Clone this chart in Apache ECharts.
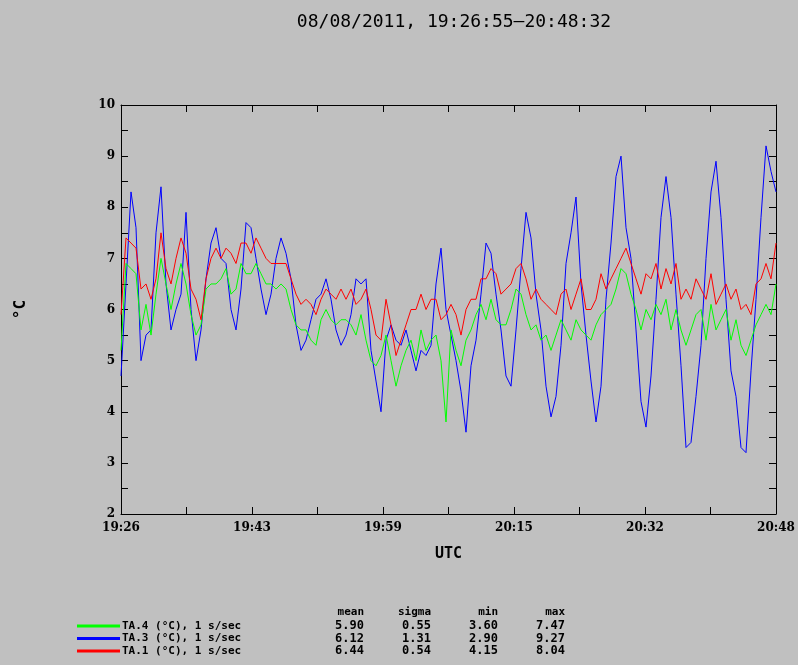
<!DOCTYPE html>
<html><head><meta charset="utf-8">
<script src="https://cdn.jsdelivr.net/npm/echarts@6/dist/echarts.min.js"></script>
<style>html,body{margin:0;padding:0;background:#c0c0c0}#c{width:798px;height:665px}</style>
</head><body><div id="c"></div>
<script>
var totalSeconds = 4897; // 19:26:55 -> 20:48:32
var startSec = 19*3600+26*60+55;
var blue = [4.7,6.5,8.3,7.6,5.0,5.5,5.6,7.5,8.4,6.5,5.6,6.0,6.3,7.9,6.0,5.0,5.6,6.6,7.3,7.6,7.0,6.9,6.0,5.6,6.4,7.7,7.6,7.0,6.4,5.9,6.3,7.0,7.4,7.1,6.6,5.7,5.2,5.4,5.8,6.2,6.3,6.6,6.2,5.6,5.3,5.5,5.9,6.6,6.5,6.6,5.2,4.6,4.0,5.4,5.7,5.4,5.3,5.6,5.2,4.8,5.2,5.1,5.3,6.5,
7.2,6.0,5.5,5.0,4.4,3.6,4.9,5.4,6.3,7.3,7.1,6.3,5.6,4.7,4.5,5.6,6.8,7.9,7.4,6.3,5.6,4.5,3.9,4.3,5.3,6.9,7.5,8.2,6.5,5.5,4.6,3.8,4.5,6.2,7.3,8.6,9.0,7.6,7.0,5.6,4.2,3.7,4.7,6.2,7.8,8.6,7.8,6.3,4.9,3.3,3.4,4.3,5.3,7.0,8.3,8.9,7.8,6.2,4.8,4.3,3.3,3.2,4.8,6.2,7.8,9.2,8.7,8.3];
var red = [5.9,7.4,7.3,7.2,6.4,6.5,6.2,6.6,7.5,6.8,6.5,7.0,7.4,7.1,6.4,6.2,5.8,6.6,7.0,7.2,7.0,7.2,7.1,6.9,7.3,7.3,7.1,7.4,7.2,7.0,6.9,6.9,6.9,6.9,6.6,6.3,6.1,6.2,6.1,5.9,6.2,6.4,6.3,6.2,6.4,6.2,6.4,6.1,6.2,6.4,6.0,5.5,5.4,6.2,5.7,5.1,5.4,5.7,6.0,6.0,6.3,6.0,6.2,6.2,
5.8,5.9,6.1,5.9,5.5,6.0,6.2,6.2,6.6,6.6,6.8,6.7,6.3,6.4,6.5,6.8,6.9,6.6,6.2,6.4,6.2,6.1,6.0,5.9,6.3,6.4,6.0,6.3,6.6,6.0,6.0,6.2,6.7,6.4,6.6,6.8,7.0,7.2,6.9,6.6,6.3,6.7,6.6,6.9,6.4,6.8,6.5,6.9,6.2,6.4,6.2,6.6,6.4,6.2,6.7,6.1,6.3,6.5,6.2,6.4,6.0,6.1,5.9,6.5,6.6,6.9,6.6,7.3];
var green = [5.2,6.9,6.8,6.7,5.6,6.1,5.5,6.3,7.0,6.5,6.0,6.5,6.9,6.5,5.9,5.5,5.7,6.4,6.5,6.5,6.6,6.8,6.3,6.4,6.9,6.7,6.7,6.9,6.7,6.5,6.5,6.4,6.5,6.4,6.0,5.7,5.6,5.6,5.4,5.3,5.8,6.0,5.8,5.7,5.8,5.8,5.7,5.5,5.9,5.4,5.0,4.9,5.1,5.5,5.0,4.5,4.9,5.2,5.4,5.0,5.6,5.2,5.4,5.5,
5.0,3.8,5.6,5.2,4.9,5.4,5.6,5.9,6.1,5.8,6.2,5.8,5.7,5.7,6.0,6.4,6.3,5.9,5.6,5.7,5.4,5.5,5.2,5.5,5.8,5.6,5.4,5.8,5.6,5.5,5.4,5.7,5.9,6.0,6.1,6.4,6.8,6.7,6.3,6.0,5.6,6.0,5.8,6.1,5.9,6.2,5.6,6.0,5.6,5.3,5.6,5.9,6.0,5.4,6.1,5.6,5.8,6.0,5.4,5.8,5.3,5.1,5.4,5.7,5.9,6.1,5.9,6.5];
var legendRows = [
 {name:'TA.4 (°C), 1 s/sec', color:'#00ff00', stats:['5.90','0.55','3.60','7.47']},
 {name:'TA.3 (°C), 1 s/sec', color:'#0000ff', stats:['6.12','1.31','2.90','9.27']},
 {name:'TA.1 (°C), 1 s/sec', color:'#ff0000', stats:['6.44','0.54','4.15','8.04']}
];
var statHeaders = ['mean','sigma','min','max'];

function toPairs(arr){var n=arr.length;return arr.map(function(v,i){return [i*totalSeconds/(n-1), v];});}
var step = totalSeconds/10;
function fmtT(v){
  var k=Math.round(v/step); if(k%2) return '';
  var s=startSec+v; var h=Math.floor(s/3600), m=Math.floor((s%3600)/60);
  return (h<10?'0':'')+h+':'+(m<10?'0':'')+m;
}
var font='"DejaVu Sans Mono", monospace';
var axLine={onZero:false,lineStyle:{color:'#000',width:1}};
var tick={inside:true,length:7,lineStyle:{color:'#000'}};
var graphics=[];
var statX=[364,431,498,565];
statHeaders.forEach(function(h,i){graphics.push({type:'text',x:statX[i],y:612,style:{text:h,font:'bold 11px '+font,fill:'#000',align:'right',verticalAlign:'middle'}});});
legendRows.forEach(function(r,j){
  var y=626+j*12.5;
  graphics.push({type:'line',shape:{x1:77,y1:y,x2:120,y2:y},style:{stroke:r.color,lineWidth:3}});
  graphics.push({type:'text',x:122,y:y,style:{text:r.name,font:'bold 11px '+font,fill:'#000',verticalAlign:'middle'}});
  r.stats.forEach(function(s,i){graphics.push({type:'text',x:statX[i],y:y,style:{text:s,font:'bold 12px '+font,fill:'#000',align:'right',verticalAlign:'middle'}});});
});
var chart=echarts.init(document.getElementById('c'));
chart.setOption({
  backgroundColor:'#c0c0c0', animation:false,
  title:{text:'08/08/2011, 19:26:55\u201320:48:32',left:449,top:8,textAlign:'center',textStyle:{fontFamily:font,fontWeight:'normal',fontSize:18,color:'#000'}},
  grid:{left:121,right:22,top:105,bottom:151},
  xAxis:[{type:'value',position:'bottom',min:0,max:totalSeconds,interval:step,axisLine:axLine,axisTick:tick,splitLine:{show:false},
    axisLabel:{formatter:fmtT,fontFamily:'"DejaVu Serif", serif',fontWeight:'bold',fontSize:12,color:'#000',margin:8,showMinLabel:true,showMaxLabel:true},
    name:'UTC',nameLocation:'middle',nameGap:33,nameTextStyle:{fontFamily:font,fontWeight:'bold',fontSize:15,color:'#000'}},
   {type:'value',position:'top',min:0,max:totalSeconds,interval:step,axisLine:axLine,axisTick:tick,axisLabel:{show:false},splitLine:{show:false}}],
  yAxis:[{type:'value',position:'left',min:2,max:10,interval:0.5,axisLine:axLine,axisTick:tick,splitLine:{show:false},
    axisLabel:{formatter:function(v){return v%1===0?String(v):'';},fontFamily:'"DejaVu Serif", serif',fontWeight:'bold',fontSize:12,color:'#000',margin:6},
    name:'°C',nameLocation:'middle',nameGap:92,nameRotate:90,nameTextStyle:{fontFamily:font,fontWeight:'bold',fontSize:16,color:'#000'}},
   {type:'value',position:'right',min:2,max:10,interval:0.5,axisLine:axLine,axisTick:tick,axisLabel:{show:false},splitLine:{show:false}}],
  series:[
    {type:'line',data:toPairs(green),showSymbol:false,lineStyle:{color:'#00ff00',width:1},z:3},
    {type:'line',data:toPairs(blue),showSymbol:false,lineStyle:{color:'#0000ff',width:1},z:2},
    {type:'line',data:toPairs(red),showSymbol:false,lineStyle:{color:'#ff0000',width:1},z:4}
  ],
  graphic:graphics
});
</script></body></html>
